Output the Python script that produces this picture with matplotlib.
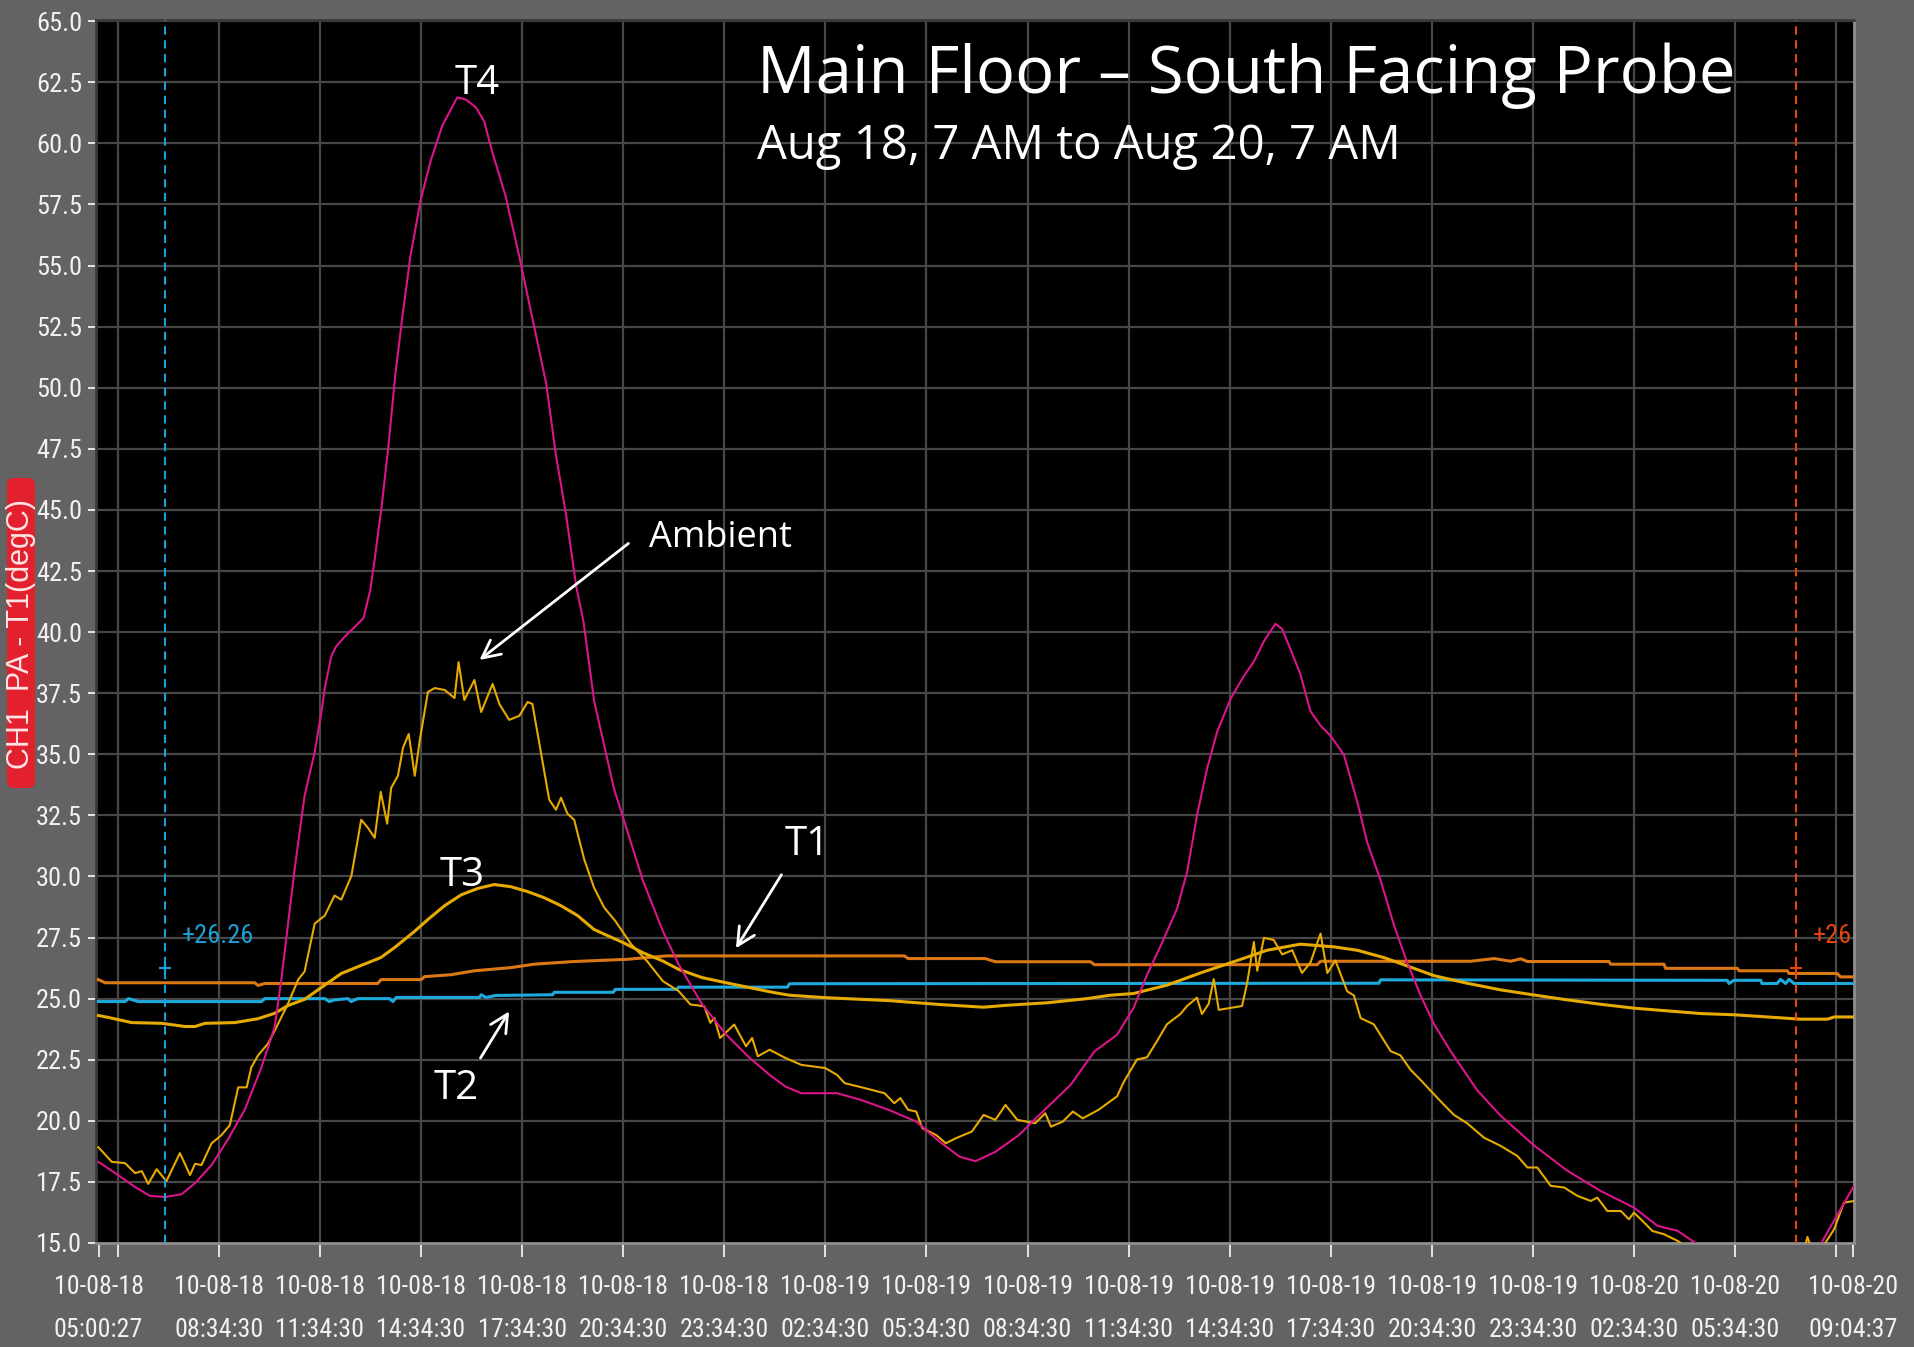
import matplotlib
matplotlib.use("Agg")
import matplotlib.pyplot as plt
from matplotlib import font_manager as fm
from matplotlib.font_manager import FontProperties
from matplotlib.patches import FancyBboxPatch

plt.rcParams["lines.scale_dashes"] = False

# ---------------- data (hours since 2010-08-18 00:00, degC) ----------------
t4_hours = [5.0, 5.5, 6.09, 6.53, 6.98, 7.47, 7.87, 8.36, 8.85, 9.35, 9.84, 10.23, 10.43, 10.63,
            10.83, 11.12, 11.42, 11.62, 11.72, 11.91, 12.05, 12.3, 12.6, 12.87, 13.07, 13.22,
            13.42, 13.61, 13.81, 14.01, 14.26, 14.56, 14.86, 15.21, 15.65, 15.9, 16.2, 16.45,
            16.7, 17.09, 17.49, 17.99, 18.29, 18.58, 18.88, 19.18, 19.4, 19.71, 20.3, 21.16,
            21.75, 22.22, 22.92, 23.63, 24.33, 24.92, 25.39, 25.86, 26.92, 27.62, 28.45, 29.27,
            29.97, 30.56, 31.03, 31.62, 32.32, 33.03, 33.85, 34.56, 35.23, 35.72, 36.12, 36.52,
            37.01, 37.31, 37.61, 37.9, 38.2, 38.6, 38.99, 39.29, 39.59, 39.93, 40.13, 40.38,
            40.67, 40.97, 41.27, 41.57, 41.96, 42.36, 42.66, 43.05, 43.45, 43.84, 44.24, 44.64,
            45.13, 45.92, 46.62, 47.6, 48.59, 49.58, 50.57, 51.27, 51.86, 52.45, 53.2, 54.5,
            55.5, 56.11, 57.1]
t4_values = [18.32, 17.86, 17.29, 16.93, 16.88, 17.0, 17.45, 18.19, 19.25, 20.47, 22.19, 23.82,
             25.78, 28.07, 30.36, 33.3, 35.1, 36.73, 37.71, 39.0, 39.4, 39.8, 40.2, 40.58, 41.72,
             43.18, 45.3, 47.65, 50.5, 52.78, 55.38, 57.65, 59.28, 60.74, 61.88, 61.8, 61.48,
             60.9, 59.6, 57.82, 55.38, 52.13, 50.17, 47.24, 44.8, 41.88, 40.4, 37.2, 33.6, 29.83,
             27.77, 26.4, 24.76, 23.53, 22.57, 21.88, 21.4, 21.13, 21.13, 20.86, 20.45, 19.97,
             19.14, 18.53, 18.35, 18.73, 19.42, 20.38, 21.47, 22.84, 23.52, 24.62, 25.97, 27.15,
             28.67, 30.19, 32.55, 34.4, 35.92, 37.27, 38.2, 38.79, 39.63, 40.34, 40.13, 39.29,
             38.28, 36.76, 36.17, 35.75, 34.99, 33.05, 31.37, 29.85, 28.0, 26.48, 25.13, 23.95,
             22.85, 21.25, 20.2, 19.0, 17.96, 17.13, 16.45, 15.7, 15.5, 14.95, 14.2, 13.6,
             14.0, 14.95, 17.34]

ambient_hours = [5.0, 5.4, 5.79, 6.09, 6.29, 6.48, 6.73, 7.02, 7.42, 7.72, 7.87, 8.06, 8.36, 8.65,
                 8.9, 9.15, 9.4, 9.54, 9.74, 10.04, 10.28, 10.63, 10.93, 11.12, 11.42, 11.72,
                 12.01, 12.21, 12.51, 12.8, 13.0, 13.2, 13.38, 13.57, 13.69, 13.89, 14.04, 14.21,
                 14.39, 14.54, 14.78, 14.98, 15.28, 15.57, 15.69, 15.86, 16.16, 16.36, 16.7, 16.9,
                 17.19, 17.49, 17.74, 17.88, 18.13, 18.38, 18.58, 18.73, 18.92, 19.12, 19.42,
                 19.71, 20.01, 20.34, 20.81, 21.28, 21.75, 22.22, 22.57, 22.98, 23.16, 23.28,
                 23.45, 23.87, 24.22, 24.4, 24.57, 24.92, 25.39, 25.86, 26.57, 26.92, 27.15,
                 27.74, 28.33, 28.62, 28.8, 29.03, 29.27, 29.45, 29.86, 30.15, 30.45, 30.92,
                 31.27, 31.62, 31.92, 32.27, 32.8, 33.1, 33.27, 33.62, 33.92, 34.21, 34.68, 35.23,
                 35.43, 35.82, 36.12, 36.42, 36.71, 37.11, 37.31, 37.6, 37.75, 37.95, 38.1, 38.25,
                 38.6, 38.94, 39.09, 39.29, 39.39, 39.59, 39.88, 40.13, 40.43, 40.72, 40.97, 41.27,
                 41.47, 41.71, 42.06, 42.26, 42.46, 42.85, 43.35, 43.64, 43.94, 44.24, 44.64,
                 44.93, 45.23, 45.62, 46.12, 46.62, 47.11, 47.41, 47.7, 48.1, 48.5, 48.89, 49.29,
                 49.48, 49.78, 50.18, 50.42, 50.57, 50.87, 51.12, 51.46, 51.86, 52.3, 53.5, 55.0,
                 55.65, 55.72, 55.8, 56.2, 56.51, 56.8, 57.1]
ambient_values = [18.92, 18.32, 18.27, 17.86, 17.94, 17.42, 18.02, 17.53, 18.68, 17.78, 18.24,
                  18.19, 19.08, 19.41, 19.82, 21.37, 21.37, 22.19, 22.68, 23.17, 23.82, 24.8,
                  25.78, 26.11, 28.07, 28.4, 29.22, 29.05, 30.03, 32.32, 31.99, 31.58, 33.46,
                  32.16, 33.63, 34.12, 35.26, 35.83, 34.12, 35.59, 37.55, 37.71, 37.63, 37.3,
                  38.77, 37.22, 38.04, 36.73, 37.88, 37.06, 36.41, 36.57, 37.14, 37.06, 35.1,
                  33.14, 32.73, 33.22, 32.57, 32.32, 30.69, 29.54, 28.73, 28.18, 27.23, 26.54,
                  25.72, 25.31, 24.76, 24.69, 24.01, 24.21, 23.39, 23.94, 23.05, 23.39, 22.64,
                  22.91, 22.57, 22.29, 22.16, 21.88, 21.54, 21.34, 21.13, 20.72, 20.93, 20.45,
                  20.38, 19.7, 19.42, 19.08, 19.29, 19.56, 20.24, 20.04, 20.65, 20.04, 19.9,
                  20.31, 19.76, 19.97, 20.38, 20.1, 20.45, 21.0, 21.59, 22.51, 22.6, 23.27, 23.95,
                  24.37, 24.7, 25.04, 24.37, 24.79, 25.8, 24.54, 24.62, 24.7, 25.63, 27.32, 26.14,
                  27.49, 27.4, 26.81, 26.98, 26.05, 26.48, 27.66, 26.05, 26.56, 25.3, 25.13,
                  24.2, 23.95, 22.85, 22.68, 22.09, 21.67, 21.08, 20.66, 20.24, 19.9, 19.31,
                  18.97, 18.56, 18.09, 18.09, 17.34, 17.27, 16.93, 16.72, 16.86, 16.31, 16.31,
                  15.97, 16.24, 15.84, 15.49, 15.36, 15.09, 14.7, 14.2, 14.3, 14.9, 15.25, 14.9,
                  14.9, 15.56, 16.65, 16.72]

t3_hours = [5.0, 5.3, 5.99, 6.88, 7.57, 7.87, 8.16, 9.05, 9.74, 10.23, 10.63, 11.12, 11.62, 12.21,
            12.8, 13.38, 13.79, 14.38, 14.78, 15.28, 15.77, 16.26, 16.75, 17.24, 17.74, 18.23,
            18.72, 19.22, 19.71, 20.11, 20.58, 21.16, 21.75, 22.22, 22.92, 23.63, 24.33, 25.04,
            25.51, 26.57, 28.45, 29.97, 31.27, 31.97, 33.15, 34.33, 35.03, 35.72, 36.71, 37.7,
            38.69, 39.68, 40.67, 41.66, 42.36, 43.15, 43.84, 44.64, 45.62, 46.61, 47.6, 48.59,
            49.58, 50.57, 51.56, 52.55, 53.54, 54.53, 55.52, 56.31, 56.51, 57.1]
t3_values = [24.31, 24.23, 24.02, 23.99, 23.86, 23.86, 23.99, 24.02, 24.18, 24.4, 24.72, 24.97,
             25.46, 26.03, 26.36, 26.68, 27.09, 27.75, 28.24, 28.81, 29.25, 29.51, 29.67, 29.58,
             29.38, 29.13, 28.81, 28.4, 27.83, 27.58, 27.29, 26.88, 26.54, 26.2, 25.86, 25.65,
             25.45, 25.25, 25.14, 25.04, 24.92, 24.76, 24.65, 24.73, 24.83, 25.0, 25.14, 25.21,
             25.55, 26.05, 26.51, 26.98, 27.23, 27.12, 26.98, 26.68, 26.34, 25.94, 25.63, 25.36,
             25.15, 24.95, 24.77, 24.61, 24.5, 24.39, 24.34, 24.25, 24.16, 24.16, 24.25, 24.25]

t1_hours = [5.0, 5.2, 9.64, 9.74, 9.94, 13.29, 13.39, 14.58, 14.68, 15.47, 16.16, 17.24, 17.93,
            19.12, 20.69, 21.87, 28.92, 29.03, 31.32, 31.62, 34.44, 34.56, 41.17, 41.27, 45.72,
            46.42, 46.91, 47.21, 47.41, 49.83, 49.88, 51.46, 51.51, 53.64, 53.69, 55.12, 55.17,
            56.6, 56.7, 57.1]
t1_values = [25.78, 25.65, 25.65, 25.54, 25.62, 25.62, 25.78, 25.78, 25.9, 25.98, 26.14, 26.27,
             26.41, 26.52, 26.61, 26.75, 26.75, 26.64, 26.64, 26.51, 26.51, 26.39, 26.39, 26.53,
             26.53, 26.64, 26.53, 26.63, 26.52, 26.52, 26.41, 26.41, 26.24, 26.24, 26.14, 26.14,
             26.03, 26.03, 25.89, 25.89]

t2_hours = [5.0, 5.79, 5.89, 6.19, 9.84, 9.94, 11.72, 11.85, 12.01, 12.41, 12.5, 12.7, 13.64,
            13.74, 13.84, 16.31, 16.36, 16.5, 16.8, 18.48, 18.53, 20.28, 20.34, 22.16, 22.22,
            25.45, 25.51, 43.0, 43.05, 53.34, 53.39, 53.54, 54.33, 54.37, 54.82, 54.92, 55.07,
            55.17, 55.32, 57.1]
t2_values = [24.88, 24.88, 25.0, 24.88, 24.88, 25.0, 25.0, 24.88, 24.95, 25.0, 24.88, 25.0, 25.0,
             24.88, 25.05, 25.05, 25.16, 25.05, 25.13, 25.16, 25.26, 25.26, 25.38, 25.38, 25.47,
             25.47, 25.61, 25.63, 25.77, 25.75, 25.62, 25.75, 25.75, 25.62, 25.62, 25.79, 25.62,
             25.79, 25.62, 25.62]

cursor_hours = [6.97, 55.39]
cursor_values = [26.26, 26.26]
cursor_labels = ["+26.26", "+26"]

tick_stamps = ["10-08-18 05:00:27", "10-08-18 05:34:30", "10-08-18 08:34:30", "10-08-18 11:34:30",
               "10-08-18 14:34:30", "10-08-18 17:34:30", "10-08-18 20:34:30", "10-08-18 23:34:30",
               "10-08-19 02:34:30", "10-08-19 05:34:30", "10-08-19 08:34:30", "10-08-19 11:34:30",
               "10-08-19 14:34:30", "10-08-19 17:34:30", "10-08-19 20:34:30", "10-08-19 23:34:30",
               "10-08-20 02:34:30", "10-08-20 05:34:30", "10-08-20 08:34:30", "10-08-20 09:04:37"]
unlabeled_stamps = ["10-08-18 05:34:30", "10-08-20 08:34:30"]
y_ticks = [15.0, 17.5, 20.0, 22.5, 25.0, 27.5, 30.0, 32.5, 35.0, 37.5, 40.0, 42.5, 45.0, 47.5,
           50.0, 52.5, 55.0, 57.5, 60.0, 62.5, 65.0]


def to_hours(stamp):
    d, t = stamp.split()
    day = int(d.split("-")[2])
    hh, mm, ss = (int(v) for v in t.split(":"))
    return (day - 18) * 24 + hh + mm / 60 + ss / 3600


# ---------------- fonts ----------------
names = {f.name for f in fm.fontManager.ttflist}
HUMAN = "Open Sans" if "Open Sans" in names else "DejaVu Sans"
ARIAL = "Liberation Sans" if "Liberation Sans" in names else "DejaVu Sans"


def narrow_font():
    prefs = ["Liberation Sans Narrow", "Roboto Condensed", "Noto Sans", "Open Sans",
             "DejaVu Sans", "Lato", "Inter"]
    best, best_rank = None, 99
    for f in fm.fontManager.ttflist:
        st = str(f.stretch).lower()
        cond = st in ("condensed", "semi-condensed") or "Narrow" in f.name or "Condensed" in f.name
        if not cond or f.style != "normal":
            continue
        w = f.weight if isinstance(f.weight, int) else {"normal": 400, "regular": 400,
                                                         "book": 400}.get(str(f.weight).lower(), 0)
        if w != 400 or "Mono" in f.name or "Serif" in f.name:
            continue
        rank = 50
        for i, p in enumerate(prefs):
            if f.name.startswith(p):
                rank = i
                break
        if rank < best_rank:
            best, best_rank = f, rank
    if best is not None:
        return FontProperties(fname=best.fname)
    return FontProperties(family=ARIAL)


NARROW_FP = narrow_font()

# ---------------- figure ----------------
W, H = 1915, 1347
fig = plt.figure(figsize=(W / 100, H / 100), dpi=100, facecolor="#636363")
renderer = fig.canvas.get_renderer()


def fitted(fp, sample, target_px, base=20.0):
    probe = fp.copy()
    probe.set_size(base)
    t = fig.text(0, 0, sample, fontproperties=probe)
    w = t.get_window_extent(renderer).width
    t.remove()
    out = fp.copy()
    out.set_size(base * target_px / w)
    return out


fp_xlab = fitted(NARROW_FP, "10-08-18", 90)
fp_ylab = fitted(NARROW_FP, "65.0", 46)
fp_cur = fitted(NARROW_FP, "+26.26", 72)

ax = fig.add_axes([96 / W, 1 - 1243 / H, (1854 - 96) / W, (1243 - 20) / H])
ax.set_facecolor("black")
ax.set_xlim(4.93, 57.10)
ax.set_ylim(15, 65.05)

tick_pos = [to_hours(s) for s in tick_stamps]
date_lab = ["" if s in unlabeled_stamps else s.split()[0] for s in tick_stamps]
time_lab = ["" if s in unlabeled_stamps else s.split()[1] for s in tick_stamps]
ax.xaxis.remove_overlapping_locs = False
ax.set_xticks(tick_pos)
ax.set_xticklabels(date_lab, fontproperties=fp_xlab, color="#f2f2f2")
ax.set_xticks(tick_pos, minor=True)
ax.set_xticklabels(time_lab, minor=True, fontproperties=fp_xlab, color="#f2f2f2")
ax.set_yticks(y_ticks)
ax.set_yticklabels([f"{v:.1f}" for v in y_ticks], fontproperties=fp_ylab, color="#f2f2f2")

ax.tick_params(axis="x", which="major", length=10, width=1.4, color="#e6e6e6", pad=13)
ax.tick_params(axis="x", which="minor", length=0, pad=54)
ax.tick_params(axis="y", length=6, width=1.4, color="#e6e6e6", pad=4)

ax.grid(True, which="major", color="#474747", lw=1.6)
ax.set_axisbelow(True)
xt = ax.xaxis.get_major_ticks()
xt[0].gridline.set_visible(False)
xt[-1].gridline.set_visible(False)
ax.yaxis.get_major_ticks()[0].gridline.set_visible(False)

for side, col in (("top", "#3a3a3a"), ("left", "#3a3a3a"), ("bottom", "#8e8e8e"), ("right", "#8e8e8e")):
    ax.spines[side].set_color(col)
    ax.spines[side].set_linewidth(2)

# ---------------- series ----------------
ax.plot(t1_hours, t1_values, color="#dc7814", lw=2.2, zorder=3)
ax.plot(t2_hours, t2_values, color="#1eaadc", lw=2.2, zorder=3)
ax.plot(t3_hours, t3_values, color="#e6aa00", lw=2.2, zorder=3)
ax.plot(ambient_hours, ambient_values, color="#e6aa00", lw=1.5, zorder=4)
ax.plot(t4_hours, t4_values, color="#dc148c", lw=1.5, zorder=5)

# ---------------- cursors ----------------
cur_cols = ["#1a9fd6", "#e2450e"]
cur_offsets = [0.52, 0.50]
for h, v, lab, c, off in zip(cursor_hours, cursor_values, cursor_labels, cur_cols, cur_offsets):
    ax.axvline(h, color=c, lw=1.5, dashes=(6, 4), zorder=6)
    ax.plot([h], [v], marker="+", ms=8, mew=1.6, color=c, zorder=7)
    ax.text(h + off, 27.28, lab, color=c, fontproperties=fp_cur,
            ha="left", va="baseline", zorder=7)

# ---------------- annotations ----------------
wk = dict(color="white", family=HUMAN, zorder=8)
ax.text(16.23, 62.03, "T4", fontsize=29, ha="center", va="baseline", **wk)
ax.text(15.80, 29.60, "T3", fontsize=29, ha="center", va="baseline", **wk)
ax.text(15.63, 20.90, "T2", fontsize=29, ha="center", va="baseline", **wk)
ax.text(26.03, 30.87, "T1", fontsize=29, ha="center", va="baseline", **wk)
ax.text(21.35, 43.48, "Ambient", fontsize=26, ha="left", va="baseline", **wk)

arr = dict(arrowstyle="->", color="white", lw=2, mutation_scale=32, shrinkA=0, shrinkB=0)
ax.annotate("", xy=(16.31, 38.86), xytext=(20.73, 43.63), arrowprops=arr, zorder=8)
ax.annotate("", xy=(23.92, 27.06), xytext=(25.27, 30.07), arrowprops=arr, zorder=8)
ax.annotate("", xy=(17.19, 24.48), xytext=(16.34, 22.57), arrowprops=arr, zorder=8)

# ---------------- titles ----------------
fig.text(757 / W, 1 - 93 / H, "Main Floor \u2013 South Facing Probe", color="white",
         fontsize=47, family=HUMAN, ha="left", va="baseline")
fig.text(757 / W, 1 - 159 / H, "Aug 18, 7 AM to Aug 20, 7 AM", color="white",
         fontsize=34, family=HUMAN, ha="left", va="baseline")

# ---------------- y label badge ----------------
badge = FancyBboxPatch((7 / W, 1 - 788 / H), 28 / W, 310 / H,
                       boxstyle="round,pad=0,rounding_size=0.004", transform=fig.transFigure,
                       fc="#e2202e", ec="none")
fig.patches.append(badge)
fig.text(21.5 / W, 1 - 634 / H, "CH1  PA - T1(degC)", rotation=90, color="#ffe4e4", fontsize=22,
         family=ARIAL, ha="center", va="center")

fig.savefig("out.png", dpi=100, facecolor=fig.get_facecolor())
